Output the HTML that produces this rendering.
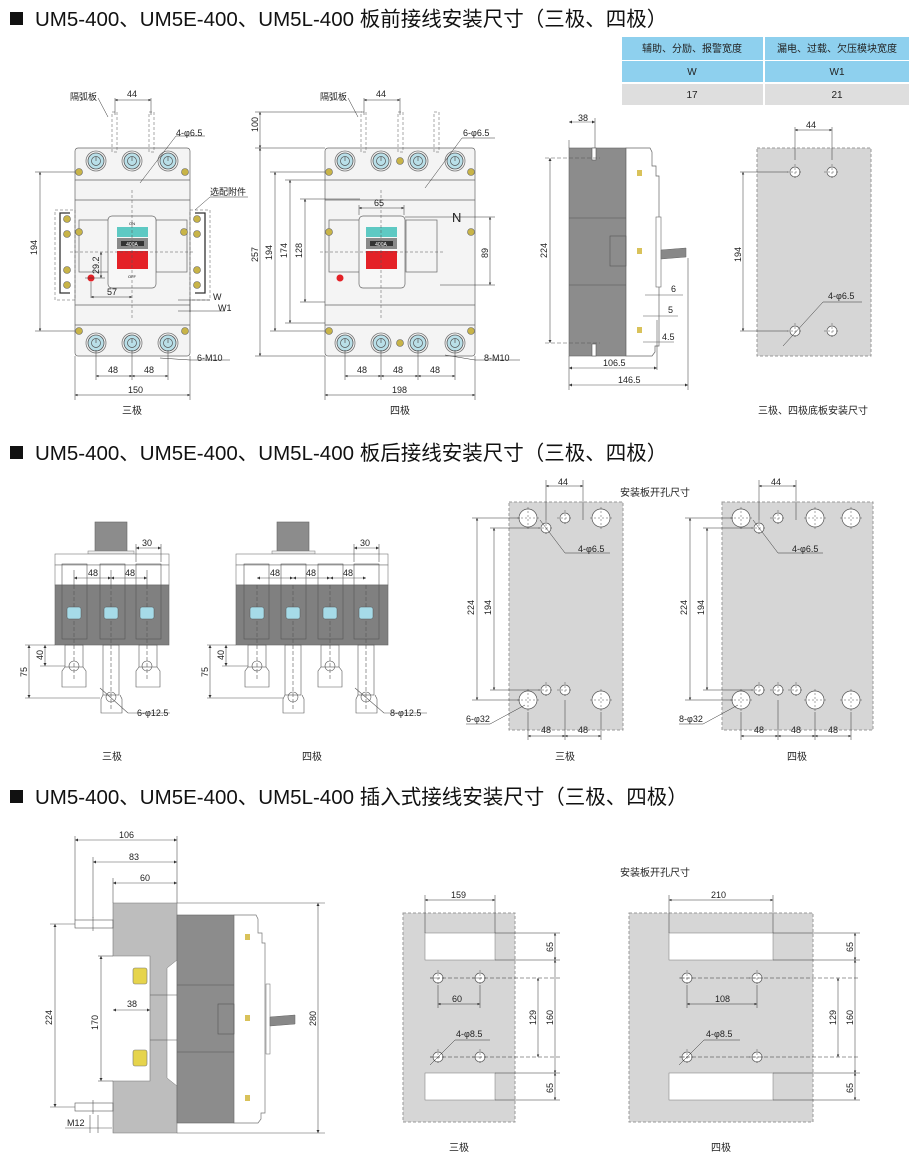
<!DOCTYPE html>
<html><head><meta charset="utf-8"><style>
html,body{margin:0;padding:0;background:#fff;}
svg{display:block;font-family:"Liberation Sans","Noto Sans CJK SC",sans-serif;}
.t{font-size:9px;fill:#222;}
.h{font-size:20.5px;fill:#111;}
.c{font-size:10px;fill:#222;}
</style></head><body>
<svg width="910" height="1163" viewBox="0 0 910 1163" xmlns="http://www.w3.org/2000/svg">
<defs>
<g id="term"><circle r="10" fill="#f4f4f4" stroke="#777" stroke-width="0.8"/><circle r="8" fill="#b9dfe8" stroke="#555" stroke-width="0.8"/><circle r="4.5" fill="none" stroke="#555" stroke-width="0.7"/><line x1="0" y1="-4" x2="0" y2="0" stroke="#555" stroke-width="0.7"/></g>
<g id="scr"><circle r="3.5" fill="#c8b448" stroke="#666" stroke-width="0.6"/></g>
<g id="hole"><circle r="5" fill="#fff" stroke="#555" stroke-width="0.7"/><line x1="-8" y1="0" x2="8" y2="0" stroke="#555" stroke-width="0.5" stroke-dasharray="2,2"/><line x1="0" y1="-8" x2="0" y2="8" stroke="#555" stroke-width="0.5" stroke-dasharray="2,2"/></g>
<g id="bhole"><circle r="9" fill="#fff" stroke="#555" stroke-width="0.7"/><line x1="-11" y1="0" x2="11" y2="0" stroke="#555" stroke-width="0.5" stroke-dasharray="2,2"/><line x1="0" y1="-11" x2="0" y2="11" stroke="#555" stroke-width="0.5" stroke-dasharray="2,2"/></g>
<marker id="a" viewBox="0 0 6 6" refX="6" refY="3" markerWidth="5" markerHeight="5" orient="auto-start-reverse"><path d="M0,0L6,3L0,6z" fill="#333"/></marker>
</defs>

<!-- Headers -->
<rect x="10" y="12" width="13" height="13" fill="#111"/>
<text class="h" x="35" y="26">UM5-400、UM5E-400、UM5L-400 板前接线安装尺寸（三极、四极）</text>
<rect x="10" y="446" width="13" height="13" fill="#111"/>
<text class="h" x="35" y="460">UM5-400、UM5E-400、UM5L-400 板后接线安装尺寸（三极、四极）</text>
<rect x="10" y="790" width="13" height="13" fill="#111"/>
<text class="h" x="35" y="804">UM5-400、UM5E-400、UM5L-400 插入式接线安装尺寸（三极、四极）</text>

<!-- Table -->
<rect x="622" y="37" width="141" height="23" fill="#8ed0ee"/>
<rect x="765" y="37" width="144" height="23" fill="#8ed0ee"/>
<rect x="622" y="61" width="141" height="21" fill="#8ed0ee"/>
<rect x="765" y="61" width="144" height="21" fill="#8ed0ee"/>
<rect x="622" y="84" width="141" height="21" fill="#dedede"/>
<rect x="765" y="84" width="144" height="21" fill="#dedede"/>
<text class="c" x="692" y="52" text-anchor="middle">辅助、分励、报警宽度</text>
<text class="c" x="837" y="52" text-anchor="middle">漏电、过载、欠压模块宽度</text>
<text class="c" x="692" y="75" text-anchor="middle">W</text>
<text class="c" x="837" y="75" text-anchor="middle">W1</text>
<text class="c" x="692" y="98" text-anchor="middle">17</text>
<text class="c" x="837" y="98" text-anchor="middle">21</text>

<!-- ===== 3-pole front ===== -->
<g stroke="#666" stroke-width="0.7" fill="#f4f4f4">
<rect x="75" y="148" width="115" height="208" rx="3"/>
<line x1="75" y1="180" x2="190" y2="180"/><line x1="75" y1="200" x2="190" y2="200"/>
<line x1="75" y1="305" x2="190" y2="305"/><line x1="75" y1="325" x2="190" y2="325"/>
<rect x="79" y="220" width="31" height="52"/><rect x="156" y="220" width="31" height="52"/>
<rect x="108" y="216" width="48" height="72" rx="4" fill="#f7f7f7"/>
</g>
<rect x="117" y="227" width="31" height="10" fill="#5ec9c3"/>
<rect x="117" y="238" width="31" height="11" fill="#8a8a8a"/>
<rect x="121" y="241" width="23" height="5" fill="#333"/>
<text x="132" y="246" font-size="5" fill="#fff" text-anchor="middle">400A</text>
<rect x="117" y="251" width="31" height="18" fill="#e42127"/>
<text x="132" y="225" font-size="4" text-anchor="middle">ON</text>
<text x="132" y="278" font-size="4" text-anchor="middle">OFF</text>
<circle cx="91" cy="278" r="3.5" fill="#e42127"/>
<use href="#term" x="96" y="161"/><use href="#term" x="132" y="161"/><use href="#term" x="168" y="161"/>
<use href="#term" x="96" y="343"/><use href="#term" x="132" y="343"/><use href="#term" x="168" y="343"/>
<use href="#scr" x="79" y="172"/><use href="#scr" x="185" y="172"/><use href="#scr" x="79" y="331"/><use href="#scr" x="185" y="331"/>
<use href="#scr" x="79" y="232"/><use href="#scr" x="184" y="232"/>
<g stroke="#333" stroke-width="1.3" fill="none">
<path d="M70,213h-10v80h10"/><path d="M195,213h10v80h-10"/>
</g>
<use href="#scr" x="67" y="219"/><use href="#scr" x="67" y="234"/><use href="#scr" x="67" y="270"/><use href="#scr" x="67" y="285"/>
<use href="#scr" x="197" y="219"/><use href="#scr" x="197" y="234"/><use href="#scr" x="197" y="270"/><use href="#scr" x="197" y="285"/>
<g stroke="#555" stroke-width="0.5" fill="none" stroke-dasharray="3,2">
<rect x="55" y="210" width="20" height="90"/><rect x="190" y="210" width="20" height="90"/>
<line x1="132" y1="190" x2="132" y2="320"/><line x1="70" y1="252" x2="195" y2="252"/>
<rect x="112" y="112" width="5" height="40"/><rect x="149" y="112" width="5" height="40"/>
</g>
<g stroke="#333" stroke-width="0.5" fill="none">
<line x1="115" y1="98" x2="115" y2="115"/><line x1="151" y1="98" x2="151" y2="115"/>
<line x1="115" y1="100" x2="151" y2="100" marker-start="url(#a)" marker-end="url(#a)"/>
<line x1="35" y1="172" x2="75" y2="172"/><line x1="35" y1="331" x2="75" y2="331"/>
<line x1="40" y1="172" x2="40" y2="331" marker-start="url(#a)" marker-end="url(#a)"/>
<line x1="75" y1="356" x2="75" y2="400"/><line x1="190" y1="356" x2="190" y2="400"/>
<line x1="75" y1="395" x2="190" y2="395" marker-start="url(#a)" marker-end="url(#a)"/>
<line x1="96" y1="350" x2="96" y2="380"/><line x1="132" y1="350" x2="132" y2="380"/><line x1="168" y1="350" x2="168" y2="380"/>
<line x1="96" y1="376" x2="132" y2="376" marker-start="url(#a)" marker-end="url(#a)"/>
<line x1="132" y1="376" x2="168" y2="376" marker-start="url(#a)" marker-end="url(#a)"/>
<line x1="91" y1="282" x2="91" y2="298"/><line x1="91" y1="297" x2="132" y2="297" marker-start="url(#a)" marker-end="url(#a)"/>
<line x1="101" y1="252" x2="101" y2="278" marker-start="url(#a)" marker-end="url(#a)"/><line x1="85" y1="278" x2="105" y2="278"/>
<line x1="178" y1="300" x2="210" y2="300"/><line x1="178" y1="311" x2="225" y2="311"/>
<line x1="190" y1="300" x2="190" y2="312"/>
<line x1="160" y1="358" x2="190" y2="360"/><line x1="190" y1="360" x2="230" y2="360"/>
<line x1="140" y1="183" x2="176" y2="136"/><line x1="176" y1="136" x2="205" y2="136"/>
<line x1="108" y1="117" x2="98" y2="98"/>
<line x1="195" y1="210" x2="210" y2="197"/><line x1="210" y1="197" x2="248" y2="197"/>
</g>
<text class="t" x="70" y="100">隔弧板</text>
<text class="t" x="127" y="97">44</text>
<text class="t" x="176" y="136">4-φ6.5</text>
<text class="t" x="210" y="195">选配附件</text>
<text class="t" x="37" y="255" transform="rotate(-90 37 255)">194</text>
<text class="t" x="99" y="274" transform="rotate(-90 99 274)">29.2</text>
<text class="t" x="107" y="295">57</text>
<text class="t" x="213" y="300">W</text>
<text class="t" x="218" y="311">W1</text>
<text class="t" x="197" y="361">6-M10</text>
<text class="t" x="108" y="373">48</text>
<text class="t" x="144" y="373">48</text>
<text class="t" x="128" y="393">150</text>
<text class="c" x="132" y="414" text-anchor="middle">三极</text>

<!-- ===== 4-pole front ===== -->
<g stroke="#666" stroke-width="0.7" fill="#f4f4f4">
<rect x="325" y="148" width="150" height="208" rx="3"/>
<line x1="325" y1="180" x2="475" y2="180"/><line x1="325" y1="200" x2="475" y2="200"/>
<line x1="325" y1="305" x2="475" y2="305"/><line x1="325" y1="325" x2="475" y2="325"/>
<rect x="329" y="220" width="31" height="52"/><rect x="406" y="220" width="31" height="52"/>
<rect x="359" y="216" width="46" height="72" rx="4" fill="#f7f7f7"/>
</g>
<rect x="366" y="227" width="31" height="10" fill="#5ec9c3"/>
<rect x="366" y="238" width="31" height="11" fill="#8a8a8a"/>
<rect x="370" y="241" width="23" height="5" fill="#333"/>
<text x="381" y="246" font-size="5" fill="#fff" text-anchor="middle">400A</text>
<rect x="366" y="251" width="31" height="18" fill="#e42127"/>
<circle cx="340" cy="278" r="3.5" fill="#e42127"/>
<use href="#term" x="345" y="161"/><use href="#term" x="381" y="161"/><use href="#term" x="418" y="161"/><use href="#term" x="455" y="161"/>
<use href="#term" x="345" y="343"/><use href="#term" x="381" y="343"/><use href="#term" x="418" y="343"/><use href="#term" x="455" y="343"/>
<use href="#scr" x="329" y="172"/><use href="#scr" x="471" y="172"/><use href="#scr" x="329" y="331"/><use href="#scr" x="471" y="331"/>
<use href="#scr" x="329" y="232"/><use href="#scr" x="471" y="232"/><use href="#scr" x="400" y="161"/><use href="#scr" x="400" y="343"/>
<g stroke="#555" stroke-width="0.5" fill="none" stroke-dasharray="3,2">
<line x1="381" y1="190" x2="381" y2="320"/><line x1="320" y1="252" x2="445" y2="252"/>
<rect x="361" y="112" width="5" height="40"/><rect x="398" y="112" width="5" height="40"/><rect x="434" y="112" width="5" height="40"/>
</g>
<g stroke="#333" stroke-width="0.5" fill="none">
<line x1="364" y1="98" x2="364" y2="115"/><line x1="400" y1="98" x2="400" y2="115"/>
<line x1="364" y1="100" x2="400" y2="100" marker-start="url(#a)" marker-end="url(#a)"/>
<line x1="255" y1="112" x2="362" y2="112"/><line x1="255" y1="148" x2="325" y2="148"/><line x1="255" y1="356" x2="325" y2="356"/>
<line x1="260" y1="112" x2="260" y2="148" marker-start="url(#a)" marker-end="url(#a)"/>
<line x1="260" y1="148" x2="260" y2="356" marker-start="url(#a)" marker-end="url(#a)"/>
<line x1="270" y1="172" x2="325" y2="172"/><line x1="270" y1="331" x2="325" y2="331"/>
<line x1="275" y1="172" x2="275" y2="331" marker-start="url(#a)" marker-end="url(#a)"/>
<line x1="285" y1="180" x2="325" y2="180"/><line x1="285" y1="323" x2="325" y2="323"/>
<line x1="290" y1="180" x2="290" y2="323" marker-start="url(#a)" marker-end="url(#a)"/>
<line x1="300" y1="199" x2="360" y2="199"/><line x1="300" y1="302" x2="325" y2="302"/>
<line x1="305" y1="199" x2="305" y2="302" marker-start="url(#a)" marker-end="url(#a)"/>
<line x1="405" y1="217" x2="495" y2="217"/><line x1="440" y1="285" x2="495" y2="285"/>
<line x1="490" y1="217" x2="490" y2="285" marker-start="url(#a)" marker-end="url(#a)"/>
<line x1="359" y1="205" x2="359" y2="215"/><line x1="404" y1="205" x2="404" y2="215"/>
<line x1="359" y1="208" x2="404" y2="208" marker-start="url(#a)" marker-end="url(#a)"/>
<line x1="325" y1="356" x2="325" y2="400"/><line x1="475" y1="356" x2="475" y2="400"/>
<line x1="325" y1="395" x2="475" y2="395" marker-start="url(#a)" marker-end="url(#a)"/>
<line x1="345" y1="350" x2="345" y2="380"/><line x1="381" y1="350" x2="381" y2="380"/><line x1="418" y1="350" x2="418" y2="380"/><line x1="455" y1="350" x2="455" y2="380"/>
<line x1="345" y1="376" x2="381" y2="376" marker-start="url(#a)" marker-end="url(#a)"/>
<line x1="381" y1="376" x2="418" y2="376" marker-start="url(#a)" marker-end="url(#a)"/>
<line x1="418" y1="376" x2="455" y2="376" marker-start="url(#a)" marker-end="url(#a)"/>
<line x1="445" y1="355" x2="475" y2="360"/><line x1="475" y1="360" x2="520" y2="360"/>
<line x1="425" y1="188" x2="462" y2="138"/><line x1="462" y1="138" x2="495" y2="138"/>
<line x1="358" y1="117" x2="348" y2="98"/>
</g>
<text class="t" x="320" y="100">隔弧板</text>
<text class="t" x="376" y="97">44</text>
<text class="t" x="463" y="136">6-φ6.5</text>
<text class="t" x="374" y="206">65</text>
<text x="452" y="222" font-size="13" fill="#222">N</text>
<text class="t" x="258" y="132" transform="rotate(-90 258 132)">100</text>
<text class="t" x="258" y="262" transform="rotate(-90 258 262)">257</text>
<text class="t" x="272" y="260" transform="rotate(-90 272 260)">194</text>
<text class="t" x="287" y="258" transform="rotate(-90 287 258)">174</text>
<text class="t" x="302" y="258" transform="rotate(-90 302 258)">128</text>
<text class="t" x="488" y="258" transform="rotate(-90 488 258)">89</text>
<text class="t" x="484" y="361">8-M10</text>
<text class="t" x="357" y="373">48</text>
<text class="t" x="393" y="373">48</text>
<text class="t" x="430" y="373">48</text>
<text class="t" x="392" y="393">198</text>
<text class="c" x="400" y="414" text-anchor="middle">四极</text>

<!-- ===== side view ===== -->
<rect x="569" y="148" width="57" height="208" fill="#8c8c8c" stroke="#666" stroke-width="0.6"/>
<path d="M626,148h24l2,4v14l4,0v10l3,0v170l-4,0v6l-3,4h-26z" fill="#fff" stroke="#666" stroke-width="0.7"/>
<rect x="656" y="217" width="5" height="70" fill="#fff" stroke="#666" stroke-width="0.6"/>
<path d="M661,250l25,-2v9l-25,2z" fill="#888" stroke="#666" stroke-width="0.5"/>
<g stroke="#555" stroke-width="0.6" fill="none">
<line x1="569" y1="218" x2="626" y2="218"/><line x1="569" y1="285" x2="626" y2="285"/>
<rect x="610" y="236" width="16" height="30"/>
<rect x="592" y="148" width="4" height="12" fill="#fff"/><rect x="592" y="344" width="4" height="12" fill="#fff"/>
<line x1="569" y1="140" x2="569" y2="148"/><line x1="595" y1="118" x2="595" y2="148"/>
<line x1="569" y1="122" x2="595" y2="122" marker-start="url(#a)" marker-end="url(#a)"/>
<line x1="545" y1="158" x2="600" y2="158" stroke-dasharray="4,2"/><line x1="545" y1="343" x2="600" y2="343" stroke-dasharray="4,2"/>
<line x1="550" y1="158" x2="550" y2="343" marker-start="url(#a)" marker-end="url(#a)"/>
<line x1="569" y1="356" x2="569" y2="390"/><line x1="657" y1="320" x2="657" y2="370"/><line x1="688" y1="258" x2="688" y2="390"/>
<line x1="569" y1="368" x2="657" y2="368" marker-start="url(#a)" marker-end="url(#a)"/>
<line x1="569" y1="385" x2="688" y2="385" marker-start="url(#a)" marker-end="url(#a)"/>
<line x1="645" y1="295" x2="683" y2="295"/><line x1="643" y1="316" x2="678" y2="316"/><line x1="643" y1="342" x2="674" y2="342"/>
</g>
<rect x="637" y="170" width="5" height="6" fill="#d9c25a"/><rect x="637" y="248" width="5" height="6" fill="#d9c25a"/><rect x="637" y="327" width="5" height="6" fill="#d9c25a"/>
<text class="t" x="578" y="121">38</text>
<text class="t" x="547" y="258" transform="rotate(-90 547 258)">224</text>
<text class="t" x="671" y="292">6</text>
<text class="t" x="668" y="313">5</text>
<text class="t" x="662" y="340">4.5</text>
<text class="t" x="603" y="366">106.5</text>
<text class="t" x="618" y="383">146.5</text>

<!-- plate 1 -->
<rect x="757" y="148" width="114" height="208" fill="#d6d6d6" stroke="#999" stroke-dasharray="3,2"/>
<use href="#hole" x="795" y="172"/><use href="#hole" x="832" y="172"/><use href="#hole" x="795" y="331"/><use href="#hole" x="832" y="331"/>
<g stroke="#333" stroke-width="0.5" fill="none">
<line x1="795" y1="127" x2="795" y2="160"/><line x1="832" y1="127" x2="832" y2="160"/>
<line x1="795" y1="130" x2="832" y2="130" marker-start="url(#a)" marker-end="url(#a)"/>
<line x1="740" y1="172" x2="788" y2="172"/><line x1="740" y1="331" x2="788" y2="331"/>
<line x1="743" y1="172" x2="743" y2="331" marker-start="url(#a)" marker-end="url(#a)"/>
<line x1="783" y1="346" x2="823" y2="302"/><line x1="823" y1="302" x2="862" y2="302"/>
</g>
<text class="t" x="806" y="128">44</text>
<text class="t" x="741" y="262" transform="rotate(-90 741 262)">194</text>
<text class="t" x="828" y="299">4-φ6.5</text>
<text class="c" x="813" y="414" text-anchor="middle">三极、四极底板安装尺寸</text>

<!-- ===== back wiring 3p ===== -->
<rect x="95" y="522" width="32" height="31" fill="#8c8c8c" stroke="#666" stroke-width="0.6"/>
<rect x="88" y="551" width="46" height="3" fill="#eee" stroke="#777" stroke-width="0.5"/>
<rect x="55" y="554" width="114" height="11" fill="#fff" stroke="#777" stroke-width="0.6"/>
<rect x="55" y="565" width="114" height="20" fill="#fff" stroke="#777" stroke-width="0.6"/>
<rect x="55" y="585" width="114" height="60" fill="#808080" stroke="#666" stroke-width="0.6"/>
<g stroke="#555" stroke-width="0.6" fill="none">
<rect x="62" y="564" width="25" height="75"/><rect x="100" y="564" width="25" height="75"/><rect x="136" y="564" width="25" height="75"/>
<rect x="65" y="645" width="18" height="22"/><rect x="103" y="645" width="16" height="50"/><rect x="139" y="645" width="18" height="22"/>
<path d="M65,667l-3,4v16h24v-16l-3,-4"/><path d="M103,695l-2,4v14h21v-14l-2,-4"/><path d="M139,667l-3,4v16h24v-16l-3,-4"/>
<circle cx="74" cy="666" r="5"/><circle cx="111" cy="697" r="5"/><circle cx="147" cy="666" r="5"/>
<line x1="74" y1="585" x2="74" y2="680" stroke-dasharray="4,2"/><line x1="111" y1="585" x2="111" y2="710" stroke-dasharray="4,2"/><line x1="147" y1="585" x2="147" y2="680" stroke-dasharray="4,2"/>
<line x1="74" y1="570" x2="74" y2="585"/><line x1="111" y1="570" x2="111" y2="585"/><line x1="147" y1="570" x2="147" y2="585"/>
<line x1="74" y1="578" x2="111" y2="578" marker-start="url(#a)" marker-end="url(#a)"/>
<line x1="111" y1="578" x2="147" y2="578" marker-start="url(#a)" marker-end="url(#a)"/>
<line x1="136" y1="544" x2="136" y2="562"/><line x1="161" y1="544" x2="161" y2="562"/>
<line x1="136" y1="548" x2="161" y2="548" marker-start="url(#a)" marker-end="url(#a)"/>
<line x1="25" y1="645" x2="55" y2="645"/><line x1="40" y1="666" x2="65" y2="666"/><line x1="25" y1="698" x2="100" y2="698"/>
<line x1="45" y1="645" x2="45" y2="666" marker-start="url(#a)" marker-end="url(#a)"/>
<line x1="29" y1="645" x2="29" y2="698" marker-start="url(#a)" marker-end="url(#a)"/>
<line x1="100" y1="688" x2="128" y2="713"/><line x1="128" y1="713" x2="170" y2="713"/>
</g>
<rect x="67" y="607" width="14" height="12" rx="2" fill="#a6dbe8" stroke="#555" stroke-width="0.5"/>
<rect x="104" y="607" width="14" height="12" rx="2" fill="#a6dbe8" stroke="#555" stroke-width="0.5"/>
<rect x="140" y="607" width="14" height="12" rx="2" fill="#a6dbe8" stroke="#555" stroke-width="0.5"/>
<text class="t" x="142" y="546">30</text>
<text class="t" x="88" y="576">48</text>
<text class="t" x="125" y="576">48</text>
<text class="t" x="43" y="660" transform="rotate(-90 43 660)">40</text>
<text class="t" x="27" y="677" transform="rotate(-90 27 677)">75</text>
<text class="t" x="137" y="716">6-φ12.5</text>
<text class="c" x="112" y="760" text-anchor="middle">三极</text>

<!-- back wiring 4p -->
<rect x="277" y="522" width="32" height="31" fill="#8c8c8c" stroke="#666" stroke-width="0.6"/>
<rect x="272" y="551" width="43" height="3" fill="#eee" stroke="#777" stroke-width="0.5"/>
<rect x="236" y="554" width="152" height="11" fill="#fff" stroke="#777" stroke-width="0.6"/>
<rect x="236" y="565" width="152" height="20" fill="#fff" stroke="#777" stroke-width="0.6"/>
<rect x="236" y="585" width="152" height="60" fill="#808080" stroke="#666" stroke-width="0.6"/>
<g stroke="#555" stroke-width="0.6" fill="none">
<rect x="244" y="564" width="25" height="75"/><rect x="281" y="564" width="25" height="75"/><rect x="318" y="564" width="25" height="75"/><rect x="354" y="564" width="25" height="75"/>
<rect x="248" y="645" width="18" height="22"/><rect x="285" y="645" width="16" height="50"/><rect x="321" y="645" width="18" height="22"/><rect x="358" y="645" width="16" height="50"/>
<path d="M248,667l-3,4v16h24v-16l-3,-4"/><path d="M285,695l-2,4v14h21v-14l-2,-4"/><path d="M321,667l-3,4v16h24v-16l-3,-4"/><path d="M358,695l-2,4v14h21v-14l-2,-4"/>
<circle cx="257" cy="666" r="5"/><circle cx="293" cy="697" r="5"/><circle cx="330" cy="666" r="5"/><circle cx="366" cy="697" r="5"/>
<line x1="257" y1="585" x2="257" y2="680" stroke-dasharray="4,2"/><line x1="293" y1="585" x2="293" y2="710" stroke-dasharray="4,2"/><line x1="330" y1="585" x2="330" y2="680" stroke-dasharray="4,2"/><line x1="366" y1="585" x2="366" y2="710" stroke-dasharray="4,2"/>
<line x1="257" y1="578" x2="293" y2="578" marker-start="url(#a)" marker-end="url(#a)"/>
<line x1="293" y1="578" x2="330" y2="578" marker-start="url(#a)" marker-end="url(#a)"/>
<line x1="330" y1="578" x2="366" y2="578" marker-start="url(#a)" marker-end="url(#a)"/>
<line x1="354" y1="544" x2="354" y2="562"/><line x1="379" y1="544" x2="379" y2="562"/>
<line x1="354" y1="548" x2="379" y2="548" marker-start="url(#a)" marker-end="url(#a)"/>
<line x1="207" y1="645" x2="236" y2="645"/><line x1="222" y1="666" x2="248" y2="666"/><line x1="207" y1="698" x2="283" y2="698"/>
<line x1="226" y1="645" x2="226" y2="666" marker-start="url(#a)" marker-end="url(#a)"/>
<line x1="210" y1="645" x2="210" y2="698" marker-start="url(#a)" marker-end="url(#a)"/>
<line x1="355" y1="688" x2="384" y2="713"/><line x1="384" y1="713" x2="427" y2="713"/>
</g>
<rect x="250" y="607" width="14" height="12" rx="2" fill="#a6dbe8" stroke="#555" stroke-width="0.5"/>
<rect x="286" y="607" width="14" height="12" rx="2" fill="#a6dbe8" stroke="#555" stroke-width="0.5"/>
<rect x="323" y="607" width="14" height="12" rx="2" fill="#a6dbe8" stroke="#555" stroke-width="0.5"/>
<rect x="359" y="607" width="14" height="12" rx="2" fill="#a6dbe8" stroke="#555" stroke-width="0.5"/>
<text class="t" x="360" y="546">30</text>
<text class="t" x="270" y="576">48</text>
<text class="t" x="306" y="576">48</text>
<text class="t" x="343" y="576">48</text>
<text class="t" x="224" y="660" transform="rotate(-90 224 660)">40</text>
<text class="t" x="208" y="677" transform="rotate(-90 208 677)">75</text>
<text class="t" x="390" y="716">8-φ12.5</text>
<text class="c" x="312" y="760" text-anchor="middle">四极</text>

<!-- back plates -->
<text class="c" x="620" y="496">安装板开孔尺寸</text>
<rect x="509" y="502" width="114" height="228" fill="#d6d6d6" stroke="#999" stroke-dasharray="3,2"/>
<use href="#bhole" x="528" y="518"/><use href="#bhole" x="601" y="518"/><use href="#bhole" x="528" y="700"/><use href="#bhole" x="601" y="700"/>
<use href="#hole" x="565" y="518"/><use href="#hole" x="546" y="528"/><use href="#hole" x="565" y="690"/><use href="#hole" x="546" y="690"/>
<g stroke="#333" stroke-width="0.5" fill="none">
<line x1="546" y1="480" x2="546" y2="520"/><line x1="583" y1="480" x2="583" y2="520"/>
<line x1="546" y1="486" x2="583" y2="486" marker-start="url(#a)" marker-end="url(#a)"/>
<line x1="472" y1="518" x2="520" y2="518"/><line x1="472" y1="700" x2="520" y2="700"/>
<line x1="477" y1="518" x2="477" y2="700" marker-start="url(#a)" marker-end="url(#a)"/>
<line x1="490" y1="528" x2="540" y2="528"/><line x1="490" y1="690" x2="540" y2="690"/>
<line x1="494" y1="528" x2="494" y2="690" marker-start="url(#a)" marker-end="url(#a)"/>
<line x1="540" y1="520" x2="565" y2="553"/><line x1="565" y1="553" x2="610" y2="553"/>
<line x1="466" y1="724" x2="490" y2="724"/><line x1="490" y1="724" x2="525" y2="705"/>
<line x1="528" y1="712" x2="528" y2="740"/><line x1="565" y1="700" x2="565" y2="740"/><line x1="601" y1="712" x2="601" y2="740"/>
<line x1="528" y1="736" x2="565" y2="736" marker-start="url(#a)" marker-end="url(#a)"/>
<line x1="565" y1="736" x2="601" y2="736" marker-start="url(#a)" marker-end="url(#a)"/>
</g>
<text class="t" x="558" y="485">44</text>
<text class="t" x="474" y="615" transform="rotate(-90 474 615)">224</text>
<text class="t" x="491" y="615" transform="rotate(-90 491 615)">194</text>
<text class="t" x="578" y="552">4-φ6.5</text>
<text class="t" x="466" y="722">6-φ32</text>
<text class="t" x="541" y="733">48</text>
<text class="t" x="578" y="733">48</text>
<text class="c" x="565" y="760" text-anchor="middle">三极</text>

<rect x="722" y="502" width="151" height="228" fill="#d6d6d6" stroke="#999" stroke-dasharray="3,2"/>
<use href="#bhole" x="741" y="518"/><use href="#bhole" x="815" y="518"/><use href="#bhole" x="851" y="518"/><use href="#bhole" x="741" y="700"/><use href="#bhole" x="815" y="700"/><use href="#bhole" x="851" y="700"/>
<use href="#hole" x="778" y="518"/><use href="#hole" x="759" y="528"/><use href="#hole" x="778" y="690"/><use href="#hole" x="759" y="690"/><use href="#hole" x="796" y="690"/>
<g stroke="#333" stroke-width="0.5" fill="none">
<line x1="759" y1="480" x2="759" y2="520"/><line x1="796" y1="480" x2="796" y2="520"/>
<line x1="759" y1="486" x2="796" y2="486" marker-start="url(#a)" marker-end="url(#a)"/>
<line x1="685" y1="518" x2="733" y2="518"/><line x1="685" y1="700" x2="733" y2="700"/>
<line x1="690" y1="518" x2="690" y2="700" marker-start="url(#a)" marker-end="url(#a)"/>
<line x1="703" y1="528" x2="753" y2="528"/><line x1="703" y1="690" x2="753" y2="690"/>
<line x1="707" y1="528" x2="707" y2="690" marker-start="url(#a)" marker-end="url(#a)"/>
<line x1="753" y1="520" x2="778" y2="553"/><line x1="778" y1="553" x2="823" y2="553"/>
<line x1="679" y1="724" x2="703" y2="724"/><line x1="703" y1="724" x2="738" y2="705"/>
<line x1="741" y1="712" x2="741" y2="740"/><line x1="778" y1="700" x2="778" y2="740"/><line x1="815" y1="712" x2="815" y2="740"/><line x1="851" y1="712" x2="851" y2="740"/>
<line x1="741" y1="736" x2="778" y2="736" marker-start="url(#a)" marker-end="url(#a)"/>
<line x1="778" y1="736" x2="815" y2="736" marker-start="url(#a)" marker-end="url(#a)"/>
<line x1="815" y1="736" x2="851" y2="736" marker-start="url(#a)" marker-end="url(#a)"/>
</g>
<text class="t" x="771" y="485">44</text>
<text class="t" x="687" y="615" transform="rotate(-90 687 615)">224</text>
<text class="t" x="704" y="615" transform="rotate(-90 704 615)">194</text>
<text class="t" x="792" y="552">4-φ6.5</text>
<text class="t" x="679" y="722">8-φ32</text>
<text class="t" x="754" y="733">48</text>
<text class="t" x="791" y="733">48</text>
<text class="t" x="828" y="733">48</text>
<text class="c" x="797" y="760" text-anchor="middle">四极</text>

<!-- ===== plug-in side ===== -->
<path d="M113,903h64v230h-64v-52h37v-125h-37z" fill="#bdbdbd" stroke="#777" stroke-width="0.6"/>
<path d="M177,960l-10,8v110l10,8z" fill="#fff" stroke="#777" stroke-width="0.5"/>
<rect x="177" y="915" width="57" height="208" fill="#8c8c8c" stroke="#666" stroke-width="0.6"/>
<path d="M234,915h22l2,4v14l4,0v10l3,0v170l-4,0v6l-3,4h-24z" fill="#fff" stroke="#777" stroke-width="0.7"/>
<rect x="266" y="984" width="4" height="70" fill="#fff" stroke="#666" stroke-width="0.5"/>
<path d="M270,1017l25,-2v9l-25,2z" fill="#888" stroke="#666" stroke-width="0.5"/>
<g stroke="#555" stroke-width="0.6" fill="none">
<line x1="177" y1="985" x2="234" y2="985"/><line x1="177" y1="1052" x2="234" y2="1052"/>
<rect x="218" y="1004" width="16" height="30"/>
<line x1="150" y1="995" x2="177" y2="995"/><line x1="150" y1="1040" x2="177" y2="1040"/>
<rect x="75" y="920" width="38" height="8"/><rect x="75" y="1103" width="38" height="8"/>
<line x1="93" y1="917" x2="93" y2="931"/><line x1="93" y1="1100" x2="93" y2="1114"/>
<line x1="75" y1="836" x2="75" y2="920"/><line x1="93" y1="857" x2="93" y2="918"/><line x1="113" y1="878" x2="113" y2="903"/><line x1="177" y1="836" x2="177" y2="903"/>
<line x1="75" y1="840" x2="177" y2="840" marker-start="url(#a)" marker-end="url(#a)"/>
<line x1="93" y1="862" x2="177" y2="862" marker-start="url(#a)" marker-end="url(#a)"/>
<line x1="113" y1="883" x2="177" y2="883" marker-start="url(#a)" marker-end="url(#a)"/>
<line x1="177" y1="903" x2="325" y2="903"/><line x1="177" y1="1133" x2="325" y2="1133"/>
<line x1="318" y1="903" x2="318" y2="1133" marker-start="url(#a)" marker-end="url(#a)"/>
<line x1="50" y1="924" x2="75" y2="924"/><line x1="50" y1="1107" x2="75" y2="1107"/>
<line x1="55" y1="924" x2="55" y2="1107" marker-start="url(#a)" marker-end="url(#a)"/>
<line x1="98" y1="956" x2="113" y2="956"/><line x1="98" y1="1081" x2="113" y2="1081"/>
<line x1="101" y1="956" x2="101" y2="1081" marker-start="url(#a)" marker-end="url(#a)"/>
<line x1="113" y1="1010" x2="150" y2="1010" marker-start="url(#a)" marker-end="url(#a)"/>
<line x1="65" y1="1128" x2="112" y2="1128"/><line x1="90" y1="1115" x2="90" y2="1133"/><line x1="98" y1="1115" x2="98" y2="1133"/>
</g>
<rect x="133" y="968" width="14" height="16" rx="2" fill="#e6d44c" stroke="#777" stroke-width="0.6"/>
<rect x="133" y="1050" width="14" height="16" rx="2" fill="#e6d44c" stroke="#777" stroke-width="0.6"/>
<rect x="245" y="934" width="5" height="6" fill="#d9c25a"/><rect x="245" y="1015" width="5" height="6" fill="#d9c25a"/><rect x="245" y="1095" width="5" height="6" fill="#d9c25a"/>
<text class="t" x="119" y="838">106</text>
<text class="t" x="129" y="860">83</text>
<text class="t" x="140" y="881">60</text>
<text class="t" x="52" y="1025" transform="rotate(-90 52 1025)">224</text>
<text class="t" x="98" y="1030" transform="rotate(-90 98 1030)">170</text>
<text class="t" x="127" y="1007">38</text>
<text class="t" x="316" y="1026" transform="rotate(-90 316 1026)">280</text>
<text class="t" x="67" y="1126">M12</text>

<!-- plug-in plates -->
<text class="c" x="620" y="876">安装板开孔尺寸</text>
<rect x="403" y="913" width="112" height="209" fill="#d6d6d6" stroke="#999" stroke-dasharray="3,2"/>
<rect x="425" y="933" width="70" height="27" fill="#fff" stroke="#777" stroke-width="0.5"/>
<rect x="425" y="1073" width="70" height="27" fill="#fff" stroke="#777" stroke-width="0.5"/>
<use href="#hole" x="438" y="978"/><use href="#hole" x="480" y="978"/><use href="#hole" x="438" y="1057"/><use href="#hole" x="480" y="1057"/>
<g stroke="#333" stroke-width="0.5" fill="none">
<line x1="425" y1="895" x2="425" y2="933"/><line x1="495" y1="895" x2="495" y2="933"/>
<line x1="425" y1="900" x2="495" y2="900" marker-start="url(#a)" marker-end="url(#a)"/>
<line x1="430" y1="978" x2="560" y2="978" stroke-dasharray="4,2"/><line x1="430" y1="1057" x2="560" y2="1057" stroke-dasharray="4,2"/>
<line x1="495" y1="933" x2="560" y2="933"/><line x1="495" y1="960" x2="560" y2="960"/><line x1="495" y1="1073" x2="560" y2="1073"/><line x1="495" y1="1100" x2="560" y2="1100"/>
<line x1="555" y1="933" x2="555" y2="960" marker-start="url(#a)" marker-end="url(#a)"/>
<line x1="555" y1="960" x2="555" y2="1073" marker-start="url(#a)" marker-end="url(#a)"/>
<line x1="555" y1="1073" x2="555" y2="1100" marker-start="url(#a)" marker-end="url(#a)"/>
<line x1="538" y1="978" x2="538" y2="1057" marker-start="url(#a)" marker-end="url(#a)"/>
<line x1="438" y1="985" x2="438" y2="1008"/><line x1="480" y1="985" x2="480" y2="1008"/>
<line x1="438" y1="1004" x2="480" y2="1004" marker-start="url(#a)" marker-end="url(#a)"/>
<line x1="430" y1="1065" x2="455" y2="1040"/><line x1="455" y1="1040" x2="490" y2="1040"/>
</g>
<text class="t" x="451" y="898">159</text>
<text class="t" x="452" y="1002">60</text>
<text class="t" x="456" y="1037">4-φ8.5</text>
<text class="t" x="553" y="952" transform="rotate(-90 553 952)">65</text>
<text class="t" x="553" y="1025" transform="rotate(-90 553 1025)">160</text>
<text class="t" x="536" y="1025" transform="rotate(-90 536 1025)">129</text>
<text class="t" x="553" y="1093" transform="rotate(-90 553 1093)">65</text>
<text class="c" x="459" y="1151" text-anchor="middle">三极</text>

<rect x="629" y="913" width="184" height="209" fill="#d6d6d6" stroke="#999" stroke-dasharray="3,2"/>
<rect x="669" y="933" width="104" height="27" fill="#fff" stroke="#777" stroke-width="0.5"/>
<rect x="669" y="1073" width="104" height="27" fill="#fff" stroke="#777" stroke-width="0.5"/>
<use href="#hole" x="687" y="978"/><use href="#hole" x="757" y="978"/><use href="#hole" x="687" y="1057"/><use href="#hole" x="757" y="1057"/>
<g stroke="#333" stroke-width="0.5" fill="none">
<line x1="669" y1="895" x2="669" y2="933"/><line x1="773" y1="895" x2="773" y2="933"/>
<line x1="669" y1="900" x2="773" y2="900" marker-start="url(#a)" marker-end="url(#a)"/>
<line x1="680" y1="978" x2="860" y2="978" stroke-dasharray="4,2"/><line x1="680" y1="1057" x2="860" y2="1057" stroke-dasharray="4,2"/>
<line x1="773" y1="933" x2="860" y2="933"/><line x1="773" y1="960" x2="860" y2="960"/><line x1="773" y1="1073" x2="860" y2="1073"/><line x1="773" y1="1100" x2="860" y2="1100"/>
<line x1="855" y1="933" x2="855" y2="960" marker-start="url(#a)" marker-end="url(#a)"/>
<line x1="855" y1="960" x2="855" y2="1073" marker-start="url(#a)" marker-end="url(#a)"/>
<line x1="855" y1="1073" x2="855" y2="1100" marker-start="url(#a)" marker-end="url(#a)"/>
<line x1="838" y1="978" x2="838" y2="1057" marker-start="url(#a)" marker-end="url(#a)"/>
<line x1="687" y1="985" x2="687" y2="1008"/><line x1="757" y1="985" x2="757" y2="1008"/>
<line x1="687" y1="1004" x2="757" y2="1004" marker-start="url(#a)" marker-end="url(#a)"/>
<line x1="679" y1="1065" x2="704" y2="1040"/><line x1="704" y1="1040" x2="740" y2="1040"/>
</g>
<text class="t" x="711" y="898">210</text>
<text class="t" x="715" y="1002">108</text>
<text class="t" x="706" y="1037">4-φ8.5</text>
<text class="t" x="853" y="952" transform="rotate(-90 853 952)">65</text>
<text class="t" x="853" y="1025" transform="rotate(-90 853 1025)">160</text>
<text class="t" x="836" y="1025" transform="rotate(-90 836 1025)">129</text>
<text class="t" x="853" y="1093" transform="rotate(-90 853 1093)">65</text>
<text class="c" x="721" y="1151" text-anchor="middle">四极</text>
</svg>
</body></html>
